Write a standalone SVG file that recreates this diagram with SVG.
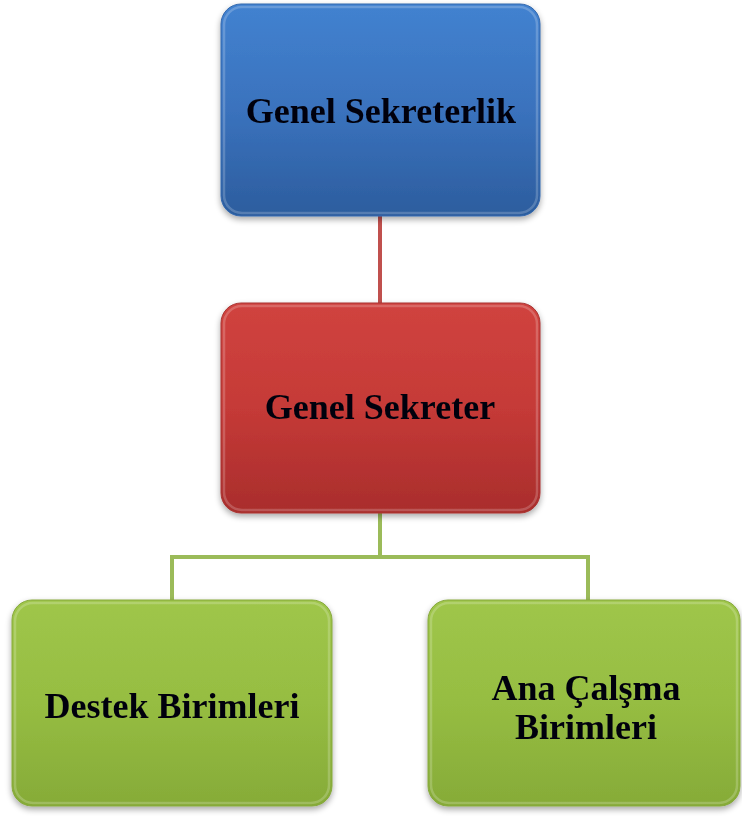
<svg xmlns="http://www.w3.org/2000/svg" width="742" height="816" viewBox="0 0 742 816">
<style>
.lbl{font-family:"Liberation Serif","Times New Roman",serif;font-weight:bold;font-size:36px;fill:#05050f;text-anchor:middle}
.box{stroke-width:1}
.hi{fill:none;stroke:#ffffff;stroke-opacity:0.2;stroke-width:2.5}
</style>
<defs>
<linearGradient id="gb" x1="0" y1="0" x2="0" y2="1">
<stop offset="0" stop-color="#4282d0"/><stop offset="0.5" stop-color="#3a72bd"/><stop offset="1" stop-color="#2c5d9e"/>
</linearGradient>
<linearGradient id="gr" x1="0" y1="0" x2="0" y2="1">
<stop offset="0" stop-color="#d0433f"/><stop offset="0.5" stop-color="#c53a37"/><stop offset="1" stop-color="#a92d2c"/>
</linearGradient>
<linearGradient id="gg" x1="0" y1="0" x2="0" y2="1">
<stop offset="0" stop-color="#9fc64a"/><stop offset="0.5" stop-color="#96bd42"/><stop offset="1" stop-color="#86ab38"/>
</linearGradient>
<filter id="sh" x="-10%" y="-10%" width="120%" height="125%">
<feGaussianBlur in="SourceAlpha" stdDeviation="3"/>
<feOffset dx="0" dy="3" result="b"/>
<feComponentTransfer><feFuncA type="linear" slope="0.35"/></feComponentTransfer>
<feMerge><feMergeNode/><feMergeNode in="SourceGraphic"/></feMerge>
</filter>
</defs>
<g id="connectors" fill="none" stroke-width="4">
<line x1="380" y1="216" x2="380" y2="304" stroke="#c0504d"/>
<polyline points="380,512 380,557" stroke="#9bbb59"/>
<polyline points="172,601 172,557 588,557 588,601" stroke="#9bbb59"/>
</g>
<g id="n1" filter="url(#sh)">
<rect x="221" y="4" width="319" height="212" rx="20" fill="url(#gb)" stroke="#3468ad" class="box"/>
<rect x="224" y="7" width="313" height="206" rx="18" class="hi"/>
<text x="381" y="123" class="lbl">Genel Sekreterlik</text>
</g>
<g id="n2" filter="url(#sh)">
<rect x="221" y="303" width="319" height="210" rx="20" fill="url(#gr)" stroke="#a83533" class="box"/>
<rect x="224" y="306" width="313" height="204" rx="18" class="hi"/>
<text x="380" y="419" class="lbl">Genel Sekreter</text>
</g>
<g id="n3" filter="url(#sh)">
<rect x="12" y="600" width="320" height="206" rx="20" fill="url(#gg)" stroke="#86a83d" class="box"/>
<rect x="15" y="603" width="314" height="200" rx="18" class="hi"/>
<text x="172" y="718" class="lbl">Destek Birimleri</text>
</g>
<g id="n4" filter="url(#sh)">
<rect x="428" y="600" width="312" height="206" rx="20" fill="url(#gg)" stroke="#86a83d" class="box"/>
<rect x="431" y="603" width="306" height="200" rx="18" class="hi"/>
<text x="586" y="700" class="lbl">Ana Çalşma</text>
<text x="586" y="739" class="lbl">Birimleri</text>
</g>
</svg>
